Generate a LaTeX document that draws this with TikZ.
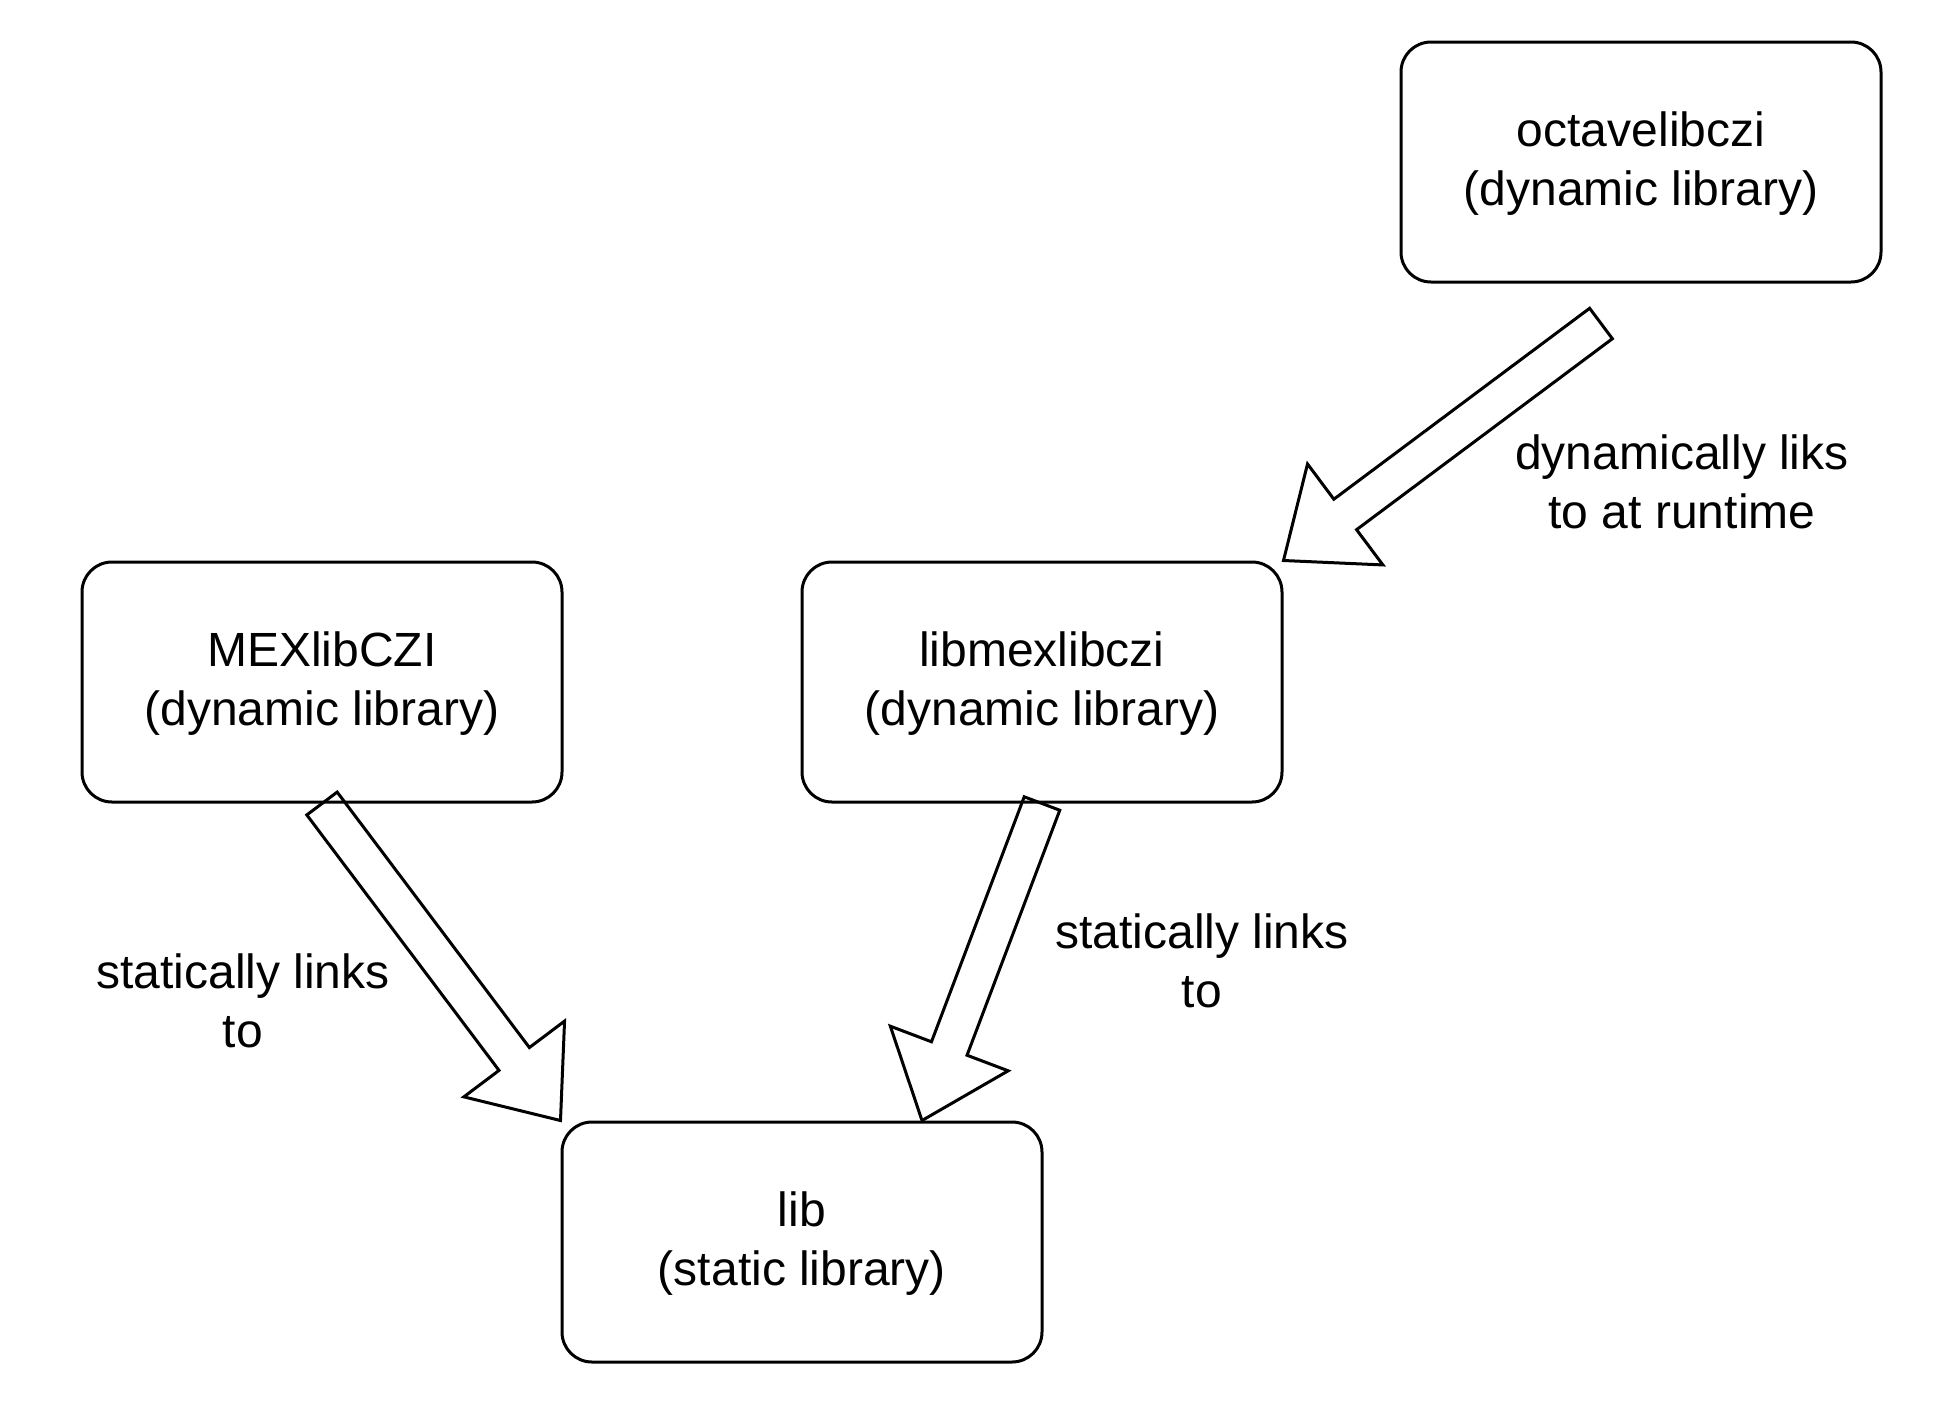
\documentclass[tikz,border=0pt]{standalone}
\usepackage{fontspec}
\setmainfont{Liberation Sans}
\usetikzlibrary{calc}
\newcommand\ls{\rule[-5.15pt]{0pt}{20.65pt}}
\newcommand\lt{\rule[-5.15pt]{0pt}{24.65pt}}
\newcommand\blockarrow[2]{%
  \path ($(#2)!38.5pt!(#1)$) coordinate (hb);
  \draw[blockarr] ($(#1)!9.5pt!90:(#2)$) -- ($(hb)!9.5pt!90:(#2)$) -- ($(hb)!31.5pt!90:(#2)$) -- (#2)
    -- ($(hb)!31.5pt!-90:(#2)$) -- ($(hb)!9.5pt!-90:(#2)$) -- ($(#1)!9.5pt!-90:(#2)$) -- cycle;
}
\tikzset{
  libbox/.style={draw, line width=1.5pt, rounded corners=15pt, minimum width=240pt, minimum height=120pt,
    inner sep=0pt, align=center, font=\fontsize{24}{29.5}\selectfont},
  lbl/.style={inner sep=0pt, align=center, font=\fontsize{24}{29.5}\selectfont},
  blockarr/.style={draw, line width=1.5pt, line join=miter, fill=none}
}
\begin{document}
\begin{tikzpicture}[x=0.5pt,y=-0.5pt]
\useasboundingbox (0,0) rectangle (1940,1404);
\node[libbox] (octave) at (1641,162) {\lt octavelibczi\\\ls (dynamic library)};
\node[libbox] (mex) at (322,682) {\lt MEXlibCZI\\\ls (dynamic library)};
\node[libbox] (libmex) at (1042,682) {\lt libmexlibczi\\\ls (dynamic library)};
\node[libbox] (lib) at (802,1242) {\lt lib\\\ls (static library)};

\coordinate (octtail) at ($(octave.south)+(-40,40)$);
\coordinate (libtip) at ($(lib.north)+(120,0)$);
\blockarrow{octtail}{libmex.north east}
\blockarrow{mex.south}{lib.north west}
\blockarrow{libmex.south}{libtip}

\node[lbl] (l1) at (1682,487) {\ls dynamically liks\\\ls to at runtime};
\node[lbl] (l2) at (243,1006) {\ls statically links\\\ls to};
\node[lbl] (l3) at (1202,966) {\ls statically links\\\ls to};
\end{tikzpicture}
\end{document}
